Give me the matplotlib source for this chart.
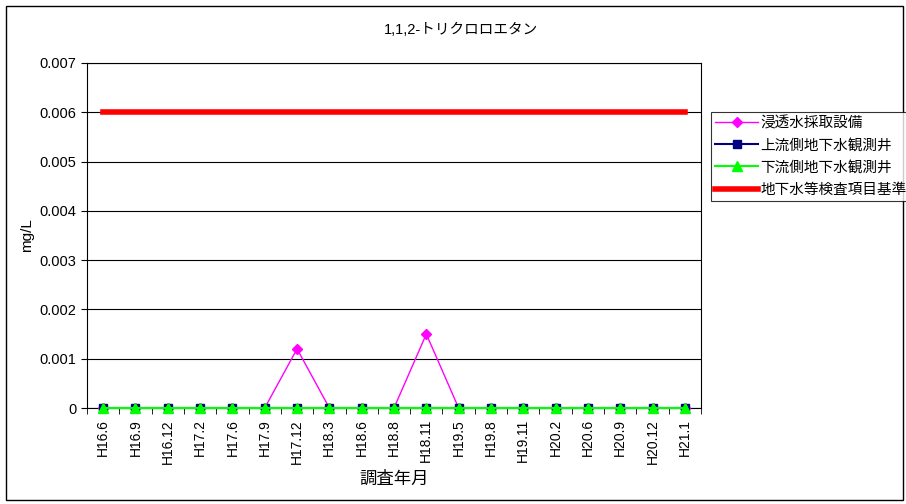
import numpy as np
import matplotlib.pyplot as plt
from matplotlib.patches import Rectangle

plt.rcParams['font.family'] = ['Liberation Sans', 'Noto Sans CJK JP']

months = ["H16.6", "H16.9", "H16.12", "H17.2", "H17.6", "H17.9", "H17.12", "H18.3",
          "H18.6", "H18.8", "H18.11", "H19.5", "H19.8", "H19.11", "H20.2", "H20.6",
          "H20.9", "H20.12", "H21.1"]
shinto = [0, 0, 0, 0, 0, 0, 0.0012, 0, 0, 0, 0.0015, 0, 0, 0, 0, 0, 0, 0, 0]
joryu = [0] * 19
karyu = [0] * 19
kijun = [0.006] * 19

W, H = 906, 504
fig = plt.figure(figsize=(W / 100, H / 100), dpi=100)
ax = fig.add_axes([87 / W, 1 - 408 / H, (701 - 87) / W, (408 - 63) / H])

fig.patches.append(Rectangle((6 / W, 1 - 500 / H), 897 / W, 494 / H, transform=fig.transFigure,
                             fill=False, edgecolor='black', linewidth=1))

x = np.arange(len(months))
ax.plot(x, kijun, color='#ff0000', linewidth=4, label='地下水等検査項目基準', zorder=3)
ax.plot(x, shinto, color='#ff00ff', linewidth=1, marker='D', markersize=5,
        label='浸透水採取設備', zorder=4, clip_on=False)
ax.plot(x, joryu, color='#000080', linewidth=1.5, marker='s', markersize=6,
        label='上流側地下水観測井', zorder=5, clip_on=False)
ax.plot(x, karyu, color='#00ff00', linewidth=1.5, marker='^', markersize=7,
        label='下流側地下水観測井', zorder=6, clip_on=False)

ax.set_xlim(-0.5, len(months) - 0.5)
ax.set_ylim(0, 0.007)
ax.set_yticks(np.arange(0, 0.0071, 0.001))
ax.set_yticklabels(['0'] + ['%.3f' % v for v in np.arange(0.001, 0.0071, 0.001)], fontsize=10.5)
ax.yaxis.grid(True, color='black', linewidth=0.8)
ax.set_axisbelow(True)
ax.set_xticks(x)
ax.set_xticklabels(months, rotation=90, fontsize=10)
ax.tick_params(axis='x', length=0, pad=8)
ax.set_xticks(np.arange(-0.5, len(months), 1), minor=True)
ax.tick_params(axis='x', which='minor', length=4, direction='out')
ax.tick_params(axis='y', length=4, direction='out')
for s in ax.spines.values():
    s.set_linewidth(0.8)

ax.set_ylabel('mg/L', fontsize=11, labelpad=4)
ax.set_xlabel('調査年月', fontsize=12.5, labelpad=5)
fig.text(461 / W, 1 - 30 / H, '1,1,2-トリクロロエタン', ha='center', va='center', fontsize=10.5)

h, l = ax.get_legend_handles_labels()
order = [1, 2, 3, 0]
leg = fig.legend([h[i] for i in order], [l[i] for i in order], loc='upper left',
                 bbox_to_anchor=(711 / W, 1 - 112 / H), fontsize=10.5, frameon=True,
                 fancybox=False, edgecolor='black', handlelength=2.9, borderpad=0.3,
                 labelspacing=0.55, handletextpad=0.2, borderaxespad=0)
leg.get_frame().set_linewidth(0.8)
leg.set_zorder(10)

fig.savefig('out.png', dpi=100)
